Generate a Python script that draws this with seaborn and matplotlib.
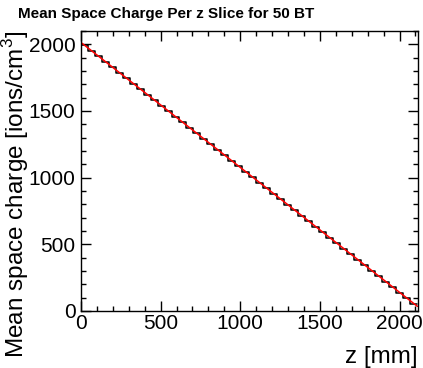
import numpy as np
import pandas as pd
import matplotlib
matplotlib.use("Agg")
import matplotlib.pyplot as plt
from matplotlib.ticker import MultipleLocator
import seaborn as sns

# ---- data ----
bin_edges_mm = [0, 44, 88, 132, 176, 220, 264, 308, 352, 396, 440, 484, 528, 572, 616,
                660, 704, 748, 792, 836, 880, 924, 968, 1012, 1056, 1100, 1144, 1188,
                1232, 1276, 1320, 1364, 1408, 1452, 1496, 1540, 1584, 1628, 1672, 1716,
                1760, 1804, 1848, 1892, 1936, 1980, 2024, 2068, 2112]
mean_charge = [1993, 1952, 1911, 1870, 1828, 1787, 1746, 1705, 1664, 1622, 1581, 1540,
               1499, 1457, 1416, 1375, 1334, 1292, 1251, 1210, 1169, 1128, 1086, 1045,
               1004, 963, 921, 880, 839, 798, 757, 715, 674, 633, 592, 550, 509, 468,
               427, 386, 344, 303, 262, 221, 179, 138, 97, 56]
fit_z = [0, 2112]
fit_charge = [2014, 35]

title = "Mean Space Charge Per z Slice for 50 BT"
xlabel = "z [mm]"
ylabel = "Mean space charge [ions/cm$^3$]"

sns.set_theme(style="white")
plt.rcParams['font.family'] = ['Liberation Sans', 'DejaVu Sans']
plt.rcParams['mathtext.fontset'] = 'custom'
plt.rcParams['mathtext.rm'] = 'Liberation Sans'
plt.rcParams['text.color'] = 'black'
plt.rcParams['axes.labelcolor'] = 'black'

W, H = 423, 368
fig = plt.figure(figsize=(W / 100, H / 100), dpi=100)
L, R, T, B = 81, 418, 31, 311
ax = fig.add_axes([L / W, 1 - B / H, (R - L) / W, (B - T) / H])

centers = [(a + b) / 2 for a, b in zip(bin_edges_mm[:-1], bin_edges_mm[1:])]
df = pd.DataFrame({"z": centers, "charge": mean_charge})
sns.histplot(data=df, x="z", weights="charge", bins=bin_edges_mm, element="step",
             fill=False, color="black", linewidth=1.1, ax=ax)
fit = pd.DataFrame({"z": fit_z, "charge": fit_charge})
sns.lineplot(data=fit, x="z", y="charge", color="red", linewidth=1.1, ax=ax)

ax.set_xlim(0, 2116)
ax.set_ylim(0, 2100)

ax.xaxis.set_major_locator(MultipleLocator(500))
ax.xaxis.set_minor_locator(MultipleLocator(100))
ax.yaxis.set_major_locator(MultipleLocator(500))
ax.yaxis.set_minor_locator(MultipleLocator(100))
ax.tick_params(which="both", direction="in", top=True, right=True, bottom=True, left=True,
               colors="black", width=1.0)
ax.tick_params(which="major", length=7, labelsize=15)
ax.tick_params(which="minor", length=3.5)
ax.tick_params(axis="x", which="major", pad=2)
ax.tick_params(axis="y", which="major", pad=4)
for s in ax.spines.values():
    s.set_color("black")
    s.set_linewidth(1.0)

ax.set_xlabel(xlabel, fontsize=17.5, loc="right", color="black")
ax.xaxis.set_label_coords(1.0, -(346 - B) / (B - T))
ax.xaxis.label.set_va("top")
ax.set_ylabel(ylabel, fontsize=17.5, loc="top", color="black")
ax.yaxis.set_label_coords((16 - L) / (R - L), 1.0)
ax.yaxis.label.set_va("center")

fig.text(18 / W, 1 - 18 / H, title, fontsize=11, fontweight="bold", ha="left",
         va="baseline", color="black")

fig.savefig("out.png", dpi=100)
